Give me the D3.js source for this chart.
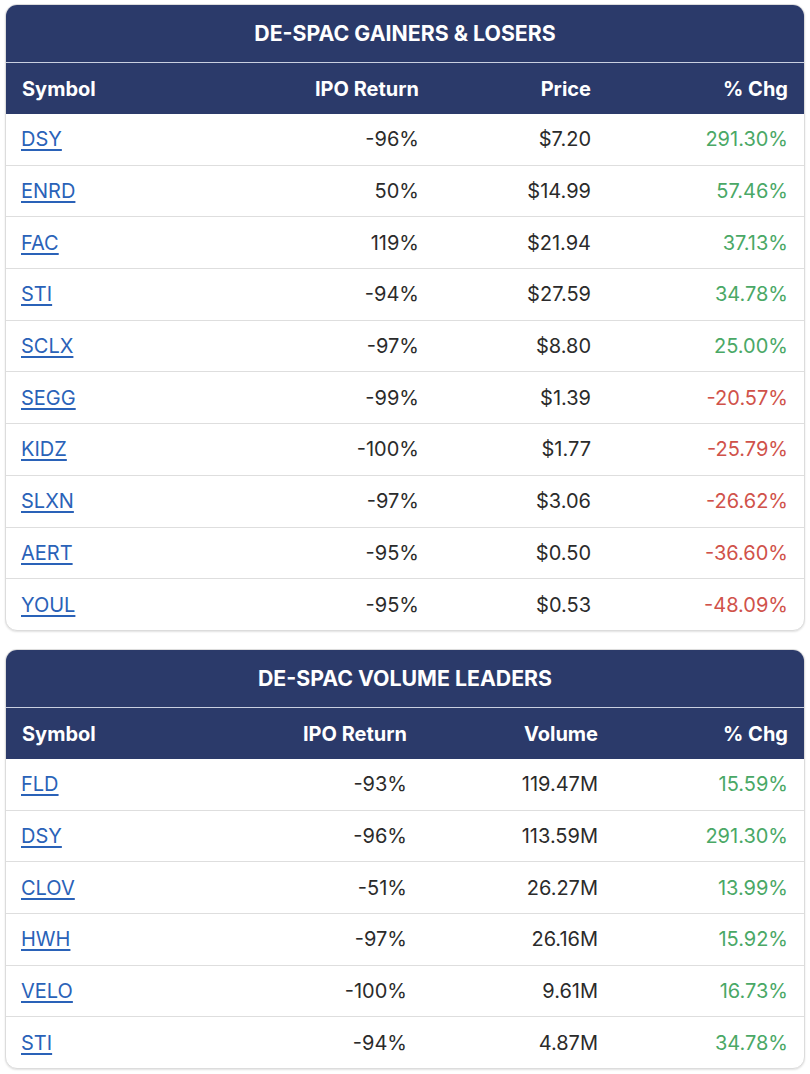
<!DOCTYPE html>
<html>
<head>
<meta charset="utf-8">
<script src="https://cdn.jsdelivr.net/npm/d3@7"></script>
<style>
    body { margin: 0; background: #fff; font-family: Inter, "Noto Sans", sans-serif; }
    .card {
        position: absolute;
        left: 5px;
        width: 798px;
        border: 1px solid #dcdcdc;
        border-radius: 12px;
        box-shadow: 0 1px 2px rgba(0,0,0,0.12);
        overflow: hidden;
        background: #fff;
    }
    .card-title {
        background: #2b3a6a;
        color: #fff;
        font-weight: 700;
        font-size: 21.3px;
        text-align: center;
        height: 57px;
        line-height: 57px;
        border-bottom: 1px solid #c9cfe0;
    }
    table { border-collapse: collapse; table-layout: fixed; width: 798px; }
    th {
        background: #2b3a6a;
        color: #fff;
        font-weight: 700;
        font-size: 20px;
        height: 51px;
        padding: 0 16px;
    }
    td {
        font-size: 20px;
        color: #2b2b2b;
        height: 50.7px;
        padding: 0 16px;
        border-top: 1px solid #dedede;
    }
    td:first-child { padding-left: 15px; }
    tbody tr:first-child td { border-top: none; }
    a { color: #2a62b8; text-decoration: underline; text-underline-offset: 3px; }
    .up { color: #4aa866; }
    .down { color: #d0524a; }
</style>
</head>
<body>
<div id="tables"></div>
<script>
// Gainers & losers
const gainSymbols = ["DSY", "ENRD", "FAC", "STI", "SCLX", "SEGG", "KIDZ", "SLXN", "AERT", "YOUL"];
const gainIpoReturn = ["-96%", "50%", "119%", "-94%", "-97%", "-99%", "-100%", "-97%", "-95%", "-95%"];
const gainPrice = ["$7.20", "$14.99", "$21.94", "$27.59", "$8.80", "$1.39", "$1.77", "$3.06", "$0.50", "$0.53"];
const gainChg = [291.30, 57.46, 37.13, 34.78, 25.00, -20.57, -25.79, -26.62, -36.60, -48.09];

// Volume leaders
const volSymbols = ["FLD", "DSY", "CLOV", "HWH", "VELO", "STI"];
const volIpoReturn = ["-93%", "-96%", "-51%", "-97%", "-100%", "-94%"];
const volVolume = ["119.47M", "113.59M", "26.27M", "26.16M", "9.61M", "4.87M"];
const volChg = [15.59, 291.30, 13.99, 15.92, 16.73, 34.78];

// plain hyphen for negatives, like the source page
const fmtPct = d3.formatLocale({ decimal: ".", thousands: ",", grouping: [3], currency: ["$", ""], minus: "-" }).format(".2f");

function drawTable(cfg) {
    const card = d3.select("#tables")
        .append("div")
        .attr("class", "card")
        .style("top", cfg.top + "px");

    card.append("div")
        .attr("class", "card-title")
        .text(cfg.title);

    const table = card.append("table");

    // column widths so the right-aligned columns land where they do in the original
    table.append("colgroup")
        .selectAll("col")
        .data(cfg.widths)
        .join("col")
        .style("width", d => d + "px");

    table.append("thead").append("tr")
        .selectAll("th")
        .data(cfg.headers)
        .join("th")
        .style("text-align", (d, i) => i === 0 ? "left" : "right")
        .text(d => d);

    const rows = cfg.symbols.map((s, i) => ({
        symbol: s,
        ipo: cfg.ipo[i],
        mid: cfg.mid[i],
        chg: cfg.chg[i]
    }));

    const tr = table.append("tbody")
        .selectAll("tr")
        .data(rows)
        .join("tr");

    tr.append("td")
        .style("text-align", "left")
        .append("a")
        .attr("href", "#")
        .text(d => d.symbol);

    tr.append("td")
        .style("text-align", "right")
        .text(d => d.ipo);

    tr.append("td")
        .style("text-align", "right")
        .text(d => d.mid);

    tr.append("td")
        .style("text-align", "right")
        .attr("class", d => d.chg >= 0 ? "up" : "down")
        .text(d => fmtPct(d.chg) + "%");
}

drawTable({
    top: 4,
    title: "DE-SPAC GAINERS & LOSERS",
    headers: ["Symbol", "IPO Return", "Price", "% Chg"],
    widths: [229, 200, 172, 197],
    symbols: gainSymbols, ipo: gainIpoReturn, mid: gainPrice, chg: gainChg
});

drawTable({
    top: 649,
    title: "DE-SPAC VOLUME LEADERS",
    headers: ["Symbol", "IPO Return", "Volume", "% Chg"],
    widths: [229, 188, 191, 190],
    symbols: volSymbols, ipo: volIpoReturn, mid: volVolume, chg: volChg
});
</script>
</body>
</html>
